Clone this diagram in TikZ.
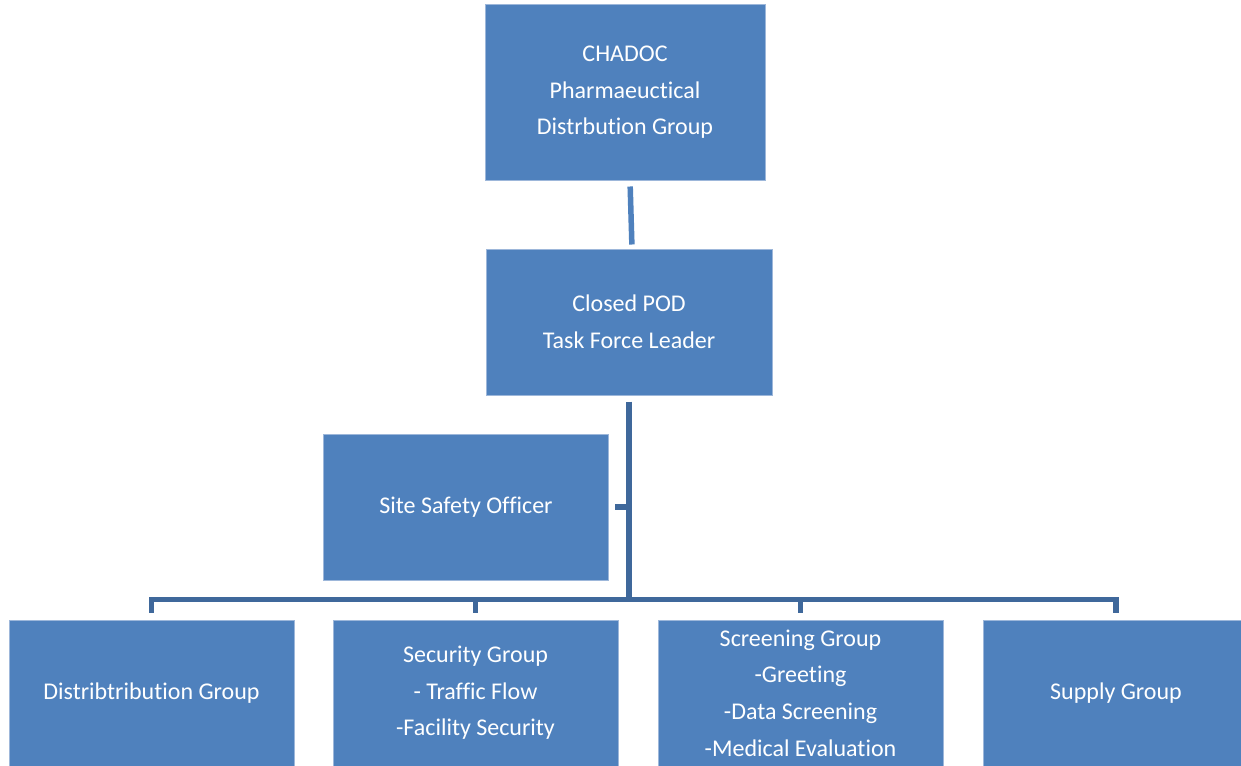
\documentclass[tikz,border=0pt]{standalone}
\usepackage{fontspec}
\setmainfont{Carlito}[Ligatures={NoCommon,NoRare}]
\usepackage{tikz}
\usetikzlibrary{positioning,calc}
\definecolor{boxblue}{HTML}{4F81BD}
\definecolor{boxedge}{HTML}{9DB7DA}
\definecolor{linkblue}{HTML}{3F689B}

\begin{document}
\begin{tikzpicture}[x=1pt, y=-1pt, node distance=100pt, thick]

        \tikzstyle{group} = [draw=boxedge, line width=1pt, fill=boxblue, rectangle, text=white, align=center, inner sep=0pt, minimum width=285pt, minimum height=146pt, font=\fontsize{24}{36.6}\selectfont]
        \tikzstyle{link} = [draw=linkblue, line width=5.5pt]
        \tikzstyle{uplink} = [draw=boxblue, line width=5.5pt]

        \useasboundingbox[fill=white] (0,0) rectangle (1241,765);
        \clip (0,0) rectangle (1241,765);

        \node [group, minimum width=280pt, minimum height=175pt] (chadoc) at (625,92.5) {CHADOC\\Pharmaeuctical\\Distrbution Group};

        \node [group, below of=chadoc, node distance=229.5pt, xshift=4pt, minimum width=286pt] (pod) {Closed POD\\Task Force Leader};

        \node [group] (safety) at (466,507) {Site Safety Officer};

        % bottom row
        \node [group] (dist) at (151.5,693) {Distribtribution Group};
        \node [group, right of=dist, node distance=324pt] (sec) {Security Group\\- Traffic Flow\\-Facility Security};
        \node [group, right of=sec, node distance=325pt] (scr) {Screening Group\\-Greeting\\-Data Screening\\-Medical Evaluation};
        \node [group, right of=scr, node distance=315.5pt, minimum width=266pt] (sup) {Supply Group};

        \coordinate (bus) at (629,600);

        \draw [uplink, shorten <=6pt, shorten >=4pt] ($(chadoc.south)+(5,0)$) -- ($(pod.north)+(3,0)$);
        \draw [link, shorten <=6pt] (pod.south) -- (bus);
        \draw [link, shorten <=6pt] (safety.east) -- (safety.east -| bus);

        \draw [link] ($(dist.north)+(0,-7)$) |- ($(sup.north)+(0,-20)$) -- ($(sup.north)+(0,-7)$);
        \foreach \g in {sec,scr}
            \draw [link] (\g.north |- bus) -- ($(\g.north)+(0,-7)$);

    \end{tikzpicture}
\end{document}
